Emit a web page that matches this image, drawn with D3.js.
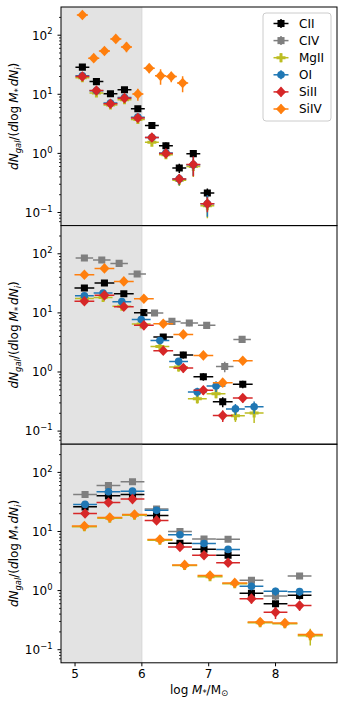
<!DOCTYPE html>
<html><head><meta charset="utf-8">
<script src="https://cdn.jsdelivr.net/npm/d3@7"></script>
<style>body{margin:0;background:#fff} svg{display:block} text{font-family:"DejaVu Sans",sans-serif}</style>
</head><body><svg id="c" width="344" height="705"></svg>
<script>
// ---------- DATA ----------
const seriesNames = ["CII", "CIV", "MgII", "OI", "SiII", "SiIV"];
const yTickValues = [0.1, 1, 10, 100];
const xTickValues = [5, 6, 7, 8];
const cutMass = 6;

// Panel 1
const p1_xA = [5.11, 5.32, 5.53, 5.74, 5.94, 6.15, 6.36, 6.56, 6.77, 6.98];
const p1_xA_err = 0.104;
const p1_xB = [5.11, 5.28, 5.44, 5.61, 5.77, 5.94, 6.11, 6.28, 6.44, 6.61];
const p1_xB_err = 0.083;
const p1_CII = [28.8, 16.4, 10.2, 11.9, 5.7, 2.97, 1.35, 0.567, 0.99, 0.214];
const p1_CII_err = [1.4, 1.0, 0.7, 0.8, 0.5, 0.3, 0.18, 0.1, 0.15, 0.04];
const p1_MgII = [19, 10.5, 6.6, 8.1, 3.75, 1.55, 0.95, 0.35, 0.6, 0.13];
const p1_MgII_err = [1.3, 0.9, 0.6, 0.7, 0.4, 0.2, 0.15, 0.07, 0.2, 0.05];
const p1_OI = [20.5, 11.5, 7.1, 8.8, 4.1, 1.85, 1.02, 0.37, 0.64, 0.14];
const p1_OI_err = [1.3, 0.9, 0.6, 0.7, 0.4, 0.25, 0.15, 0.08, 0.22, 0.055];
const p1_SiII = [20, 11.6, 6.9, 8.6, 3.96, 1.86, 1.0, 0.37, 0.65, 0.141];
const p1_SiII_err = [1.3, 0.9, 0.6, 0.7, 0.4, 0.25, 0.15, 0.07, 0.24, 0.04];
const p1_SiIV = [220, 40.9, 54, 86.5, 63.4, 10.1, 27.7, 20.5, 20, 15.5];
const p1_SiIV_err = [15, 5, 6, 12, 12, 2.3, 5, 6, 4, 4.7];

// Panel 2
const p2_xCIV = [5.14, 5.40, 5.66, 5.93, 6.19, 6.45, 6.71, 6.97, 7.24, 7.50];
const p2_xCIV_err = 0.131;
const p2_xC = [5.14, 5.44, 5.73, 6.03, 6.32, 6.62, 6.92, 7.21, 7.51];
const p2_xC_err = 0.148;
const p2_xO = [5.14, 5.42, 5.70, 5.99, 6.27, 6.55, 6.83, 7.11, 7.40, 7.68];
const p2_xO_err = 0.141;
const p2_CII = [26.4, 32, 21.1, 10.1, 3.9, 1.94, 0.83, 0.314, 0.62];
const p2_CII_err = [2, 2.2, 1.8, 1.0, 0.45, 0.25, 0.12, 0.06, 0.09];
const p2_CIV = [85, 78.5, 68.8, 45.5, 9.96, 7.18, 6.74, 6.15, 1.24, 3.56];
const p2_CIV_err = [3.5, 3.5, 3.2, 2.6, 1.0, 0.8, 0.8, 0.75, 0.25, 0.45];
const p2_MgII = [17.5, 18.3, 12.9, 6.5, 2.71, 1.22, 0.353, 0.43, 0.182, 0.202];
const p2_MgII_err = [1.6, 1.7, 1.4, 0.9, 0.35, 0.2, 0.06, 0.07, 0.04, 0.065];
const p2_OI = [19.5, 21.7, 15.5, 7.7, 3.4, 1.51, 0.46, 0.58, 0.237, 0.257];
const p2_OI_err = [1.7, 1.8, 1.6, 1.0, 0.4, 0.22, 0.08, 0.12, 0.05, 0.06];
const p2_SiII = [15.7, 19.8, 12.7, 6.15, 2.29, 1.17, 0.49, 0.183, 0.363];
const p2_SiII_err = [1.6, 1.8, 1.5, 0.9, 0.35, 0.2, 0.08, 0.04, 0.06];
const p2_SiIV = [44.3, 56.6, 34.1, 17.4, 6.56, 4.33, 1.91, 0.66, 1.55];
const p2_SiIV_err = [2.6, 3, 2.5, 1.5, 0.7, 0.5, 0.25, 0.1, 0.2];

// Panel 3
const p3_xA = [5.15, 5.50, 5.86, 6.22, 6.57, 6.93, 7.29, 7.64, 8.00, 8.36];
const p3_xA_err = 0.178;
const p3_xB = [5.14, 5.52, 5.89, 6.27, 6.64, 7.02, 7.39, 7.77, 8.14, 8.52];
const p3_xB_err = 0.1875;
const p3_CII = [26.1, 40.1, 42.4, 18.6, 6.3, 5.0, 3.97, 0.9, 0.60, 0.83];
const p3_CII_err = [2.0, 2.5, 2.6, 1.6, 0.7, 0.55, 0.5, 0.15, 0.1, 0.12];
const p3_CIV = [42.4, 60.2, 69.3, 24, 10, 7.45, 7.4, 1.5, 0.81, 1.77];
const p3_CIV_err = [2.5, 3, 3.3, 2, 1, 0.8, 0.8, 0.2, 0.14, 0.2];
const p3_MgII = [12.0, 16.8, 18.8, 7.1, 2.65, 1.72, 1.3, 0.285, 0.275, 0.172];
const p3_MgII_err = [0.9, 1.1, 1.2, 0.6, 0.25, 0.18, 0.15, 0.04, 0.04, 0.054];
const p3_OI = [28.7, 47, 48.2, 22.8, 8.8, 6.26, 4.98, 1.18, 0.97, 0.96];
const p3_OI_err = [2.2, 2.8, 2.8, 1.8, 0.9, 0.7, 0.6, 0.17, 0.15, 0.15];
const p3_SiII = [20.2, 31, 35.3, 15.4, 5.45, 3.97, 2.96, 0.73, 0.43, 0.557];
const p3_SiII_err = [1.8, 2.3, 2.5, 1.5, 0.7, 0.55, 0.45, 0.13, 0.1, 0.1];
const p3_SiIV = [12.4, 17.3, 19.4, 7.3, 2.72, 1.8, 1.35, 0.294, 0.282, 0.18];
const p3_SiIV_err = [0.9, 1.1, 1.2, 0.6, 0.25, 0.18, 0.15, 0.04, 0.04, 0.035];

// ---------- STYLE ----------
const colors = {CII:"#000000", CIV:"#7f7f7f", MgII:"#bcbd22", OI:"#1f77b4", SiII:"#d62728", SiIV:"#ff7f0e"};
const diamondPath = "M0,-5.3L5,0L0,5.3L-5,0Z";
const markers = {
  CII: d3.symbol(d3.symbolSquare, 50)(),
  CIV: d3.symbol(d3.symbolSquare, 50)(),
  MgII: d3.symbol(d3.symbolCross, 45)(),
  OI: d3.symbol(d3.symbolCircle, 46)(),
  SiII: diamondPath,
  SiIV: diamondPath
};

const panels = [
  {series: {
    CII: {x:p1_xA, xe:p1_xA_err, y:p1_CII, ye:p1_CII_err},
    MgII:{x:p1_xA, xe:p1_xA_err, y:p1_MgII, ye:p1_MgII_err},
    OI:  {x:p1_xA, xe:p1_xA_err, y:p1_OI, ye:p1_OI_err},
    SiII:{x:p1_xA, xe:p1_xA_err, y:p1_SiII, ye:p1_SiII_err},
    SiIV:{x:p1_xB, xe:p1_xB_err, y:p1_SiIV, ye:p1_SiIV_err}}, legend:true},
  {series: {
    CII: {x:p2_xC, xe:p2_xC_err, y:p2_CII, ye:p2_CII_err},
    CIV: {x:p2_xCIV, xe:p2_xCIV_err, y:p2_CIV, ye:p2_CIV_err},
    MgII:{x:p2_xO, xe:p2_xO_err, y:p2_MgII, ye:p2_MgII_err},
    OI:  {x:p2_xO, xe:p2_xO_err, y:p2_OI, ye:p2_OI_err},
    SiII:{x:p2_xC, xe:p2_xC_err, y:p2_SiII, ye:p2_SiII_err},
    SiIV:{x:p2_xC, xe:p2_xC_err, y:p2_SiIV, ye:p2_SiIV_err}}},
  {series: {
    CII: {x:p3_xA, xe:p3_xA_err, y:p3_CII, ye:p3_CII_err},
    CIV: {x:p3_xA, xe:p3_xA_err, y:p3_CIV, ye:p3_CIV_err},
    MgII:{x:p3_xB, xe:p3_xB_err, y:p3_MgII, ye:p3_MgII_err},
    OI:  {x:p3_xA, xe:p3_xA_err, y:p3_OI, ye:p3_OI_err},
    SiII:{x:p3_xA, xe:p3_xA_err, y:p3_SiII, ye:p3_SiII_err},
    SiIV:{x:p3_xB, xe:p3_xB_err, y:p3_SiIV, ye:p3_SiIV_err}}, xaxis:true}
];

// ---------- LAYOUT ----------
const L = 61, R = 337, T = 7, PH = 218.6;
const FS = 12;
const svg = d3.select("#c");
const x = d3.scaleLinear().domain([4.79, 8.92]).range([L, R]);

function rich(sel, parts, fs) {
  let off = 0;
  parts.forEach(p => {
    const ts = sel.append("tspan").text(p.t);
    let target = 0;
    if (p.sub) target = fs * 0.22;
    if (p.sup) target = -fs * 0.42;
    if (target !== off) { ts.attr("dy", target - off); off = target; }
    if (p.sub || p.sup) ts.attr("font-size", fs * 0.7);
    if (p.it) ts.attr("font-style", "italic");
    if (p.dx) ts.attr("dx", p.dx);
  });
}

panels.forEach((P, pi) => {
  const top = T + pi * PH, bot = top + PH;
  const y = d3.scaleLog().domain([0.06, 300]).range([bot, top]);
  const g = svg.append("g");
  // clip
  const cid = "clip" + pi;
  svg.append("clipPath").attr("id", cid).append("rect")
    .attr("x", L).attr("y", top).attr("width", R - L).attr("height", PH);

  // shaded region
  g.append("rect").attr("x", L).attr("y", top).attr("width", x(cutMass) - L).attr("height", PH)
    .attr("fill", "#e3e3e3");
  g.append("line").attr("x1", x(cutMass)).attr("x2", x(cutMass)).attr("y1", top).attr("y2", bot)
    .attr("stroke", "#d6d6d6").attr("stroke-width", 1);

  const data = g.append("g").attr("clip-path", `url(#${cid})`);
  seriesNames.forEach(name => {
    const s = P.series[name];
    if (!s) return;
    const col = colors[name];
    const sg = data.append("g");
    const pts = s.y.map((v, i) => ({x: s.x[i], y: v, ye: s.ye[i], xe: s.xe}));
    sg.selectAll("line.h").data(pts).join("line")
      .attr("x1", d => x(d.x - d.xe)).attr("x2", d => x(d.x + d.xe))
      .attr("y1", d => y(d.y)).attr("y2", d => y(d.y))
      .attr("stroke", col).attr("stroke-width", 1.5);
    sg.selectAll("line.v").data(pts).join("line")
      .attr("x1", d => x(d.x)).attr("x2", d => x(d.x))
      .attr("y1", d => y(Math.max(d.y - d.ye, 1e-3))).attr("y2", d => y(d.y + d.ye))
      .attr("stroke", col).attr("stroke-width", 1.5);
    sg.selectAll("path").data(pts).join("path")
      .attr("d", markers[name])
      .attr("transform", d => `translate(${x(d.x)},${y(d.y)})`)
      .attr("fill", col);
  });

  // frame
  g.append("rect").attr("x", L).attr("y", top).attr("width", R - L).attr("height", PH)
    .attr("fill", "none").attr("stroke", "#000").attr("stroke-width", 1);

  // y ticks
  const minor = [];
  for (let e = -2; e <= 3; e++) for (let k = 2; k <= 9; k++) {
    const v = k * Math.pow(10, e);
    if (v > 0.06 && v < 300) minor.push(v);
  }
  g.selectAll("line.minor").data(minor).join("line")
    .attr("x1", L).attr("x2", L - 2).attr("y1", d => y(d)).attr("y2", d => y(d))
    .attr("stroke", "#000").attr("stroke-width", 0.8);
  g.selectAll("line.major").data(yTickValues).join("line")
    .attr("x1", L).attr("x2", L - 3.5).attr("y1", d => y(d)).attr("y2", d => y(d))
    .attr("stroke", "#000").attr("stroke-width", 1);
  yTickValues.forEach(v => {
    const t = g.append("text").attr("x", L - 8.5).attr("y", y(v) + FS * 0.36)
      .attr("text-anchor", "end").attr("font-size", FS);
    const ex = Math.round(Math.log10(v));
    rich(t, [{t: "10"}, {t: (ex < 0 ? "\u2212" : "") + Math.abs(ex), sup: true}], FS);
  });

  // y label
  const yl = svg.append("text").attr("font-size", FS).attr("text-anchor", "middle")
    .attr("transform", `translate(18,${(top + bot) / 2}) rotate(-90)`);
  rich(yl, [
    {t: "dN", it: true}, {t: "gal", it: true, sub: true}, {t: "/(", }, {t: "d", it: true},
    {t: "log"}, {t: "M", it: true, dx: 3}, {t: "*", sub: true}, {t: "dN", it: true, dx: 2},
    {t: "i", it: true, sub: true}, {t: ")"}
  ], FS);

  if (P.xaxis) {
    g.selectAll("line.xt").data(xTickValues).join("line")
      .attr("x1", d => x(d)).attr("x2", d => x(d)).attr("y1", bot).attr("y2", bot + 3.5)
      .attr("stroke", "#000").attr("stroke-width", 1);
    g.selectAll("text.xt").data(xTickValues).join("text")
      .attr("x", d => x(d)).attr("y", bot + 15.5).attr("text-anchor", "middle")
      .attr("font-size", FS).text(d => d);
    const xl = svg.append("text").attr("x", (L + R) / 2).attr("y", 693.5)
      .attr("text-anchor", "middle").attr("font-size", FS);
    rich(xl, [{t: "log "}, {t: "M", it: true}, {t: "*", sub: true}, {t: "/M"}, {t: "\u2299", sub: true}], FS);
  }

  if (P.legend) {
    const lg = svg.append("g");
    lg.append("rect").attr("x", 263).attr("y", 13).attr("width", 68).attr("height", 108)
      .attr("rx", 3).attr("fill", "#fff").attr("fill-opacity", 0.8)
      .attr("stroke", "#cccccc").attr("stroke-width", 1);
    seriesNames.forEach((name, i) => {
      const cy = 23.5 + i * 17.1, cx = 281;
      const col = colors[name];
      lg.append("line").attr("x1", cx - 7.5).attr("x2", cx + 7.5).attr("y1", cy).attr("y2", cy)
        .attr("stroke", col).attr("stroke-width", 1.5);
      lg.append("line").attr("x1", cx).attr("x2", cx).attr("y1", cy - 4.5).attr("y2", cy + 4.5)
        .attr("stroke", col).attr("stroke-width", 1.5);
      lg.append("path").attr("d", markers[name]).attr("transform", `translate(${cx},${cy})`)
        .attr("fill", col);
      lg.append("text").attr("x", 299).attr("y", cy + 4.3).attr("font-size", FS).text(name);
    });
  }
});
</script></body></html>
